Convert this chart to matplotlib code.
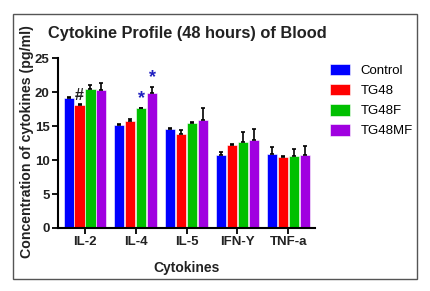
"""
Cytokine profile (48 hours) of blood - grouped bar chart
"""

import numpy as np
import matplotlib
matplotlib.use('Agg')
import matplotlib.pyplot as plt
from matplotlib.patches import Rectangle

cytokines = ['IL-2', 'IL-4', 'IL-5', 'IFN-Y', 'TNF-a']
groups = ['Control', 'TG48', 'TG48F', 'TG48MF']
colors = ['#0000FF', '#FF0000', '#00C000', '#A000E0']

control = [19.1, 15.2, 14.6, 10.8, 10.9]
tg48 = [18.1, 15.7, 13.9, 12.2, 10.4]
tg48f = [20.5, 17.6, 15.4, 12.6, 10.6]
tg48mf = [20.3, 19.9, 15.9, 13.0, 10.7]

control_err = [0.15, 0.1, 0.15, 0.35, 1.0]
tg48_err = [0.1, 0.3, 0.5, 0.15, 0.15]
tg48f_err = [0.6, 0.1, 0.2, 1.55, 0.95]
tg48mf_err = [1.0, 0.9, 1.75, 1.55, 1.35]

plt.rcParams['font.family'] = ['Liberation Sans', 'DejaVu Sans']

fig = plt.figure(figsize=(4.3, 2.91), dpi=100)
ax = fig.add_axes([0.135, 0.2165, 0.598, 0.584])

# grey frame around the whole picture
fig.patches.append(Rectangle((13 / 430, 12 / 291), 404 / 430, 265 / 291,
                             transform=fig.transFigure, fill=False,
                             edgecolor='#555555', linewidth=1.0))

x = np.arange(len(cytokines))
width = 0.2
step = 0.215
series = [control, tg48, tg48f, tg48mf]
errors = [control_err, tg48_err, tg48f_err, tg48mf_err]

for i, (vals, errs) in enumerate(zip(series, errors)):
    pos = x + (i - 1.5) * step
    ax.bar(pos, vals, width, color=colors[i], edgecolor='white',
           linewidth=0.4, label=groups[i], zorder=2)
    ax.errorbar(pos, vals, yerr=[np.zeros(len(errs)), errs], fmt='none',
                ecolor='black', elinewidth=1.2, capsize=1.5, capthick=1.2,
                zorder=3)

# significance marks
ax.text(x[0] - 0.5 * step, tg48[0] + tg48_err[0] + 0.2, '#',
        ha='center', va='bottom', fontsize=11.5, fontweight='bold', color='#222222')
ax.text(x[1] + 0.5 * step, tg48f[1] + tg48f_err[1] + 0.1, '*',
        ha='center', va='bottom', fontsize=13, fontweight='bold', color='#2020C0')
ax.text(x[1] + 1.5 * step, tg48mf[1] + tg48mf_err[1] + 0.1, '*',
        ha='center', va='bottom', fontsize=13, fontweight='bold', color='#2020C0')

ax.set_xlim(-0.53, 4.53)
ax.set_ylim(0, 25)
ax.set_yticks([0, 5, 10, 15, 20, 25])
ax.set_xticks(x)
ax.set_xticklabels(cytokines)
for lab in ax.get_xticklabels() + ax.get_yticklabels():
    lab.set_fontweight('bold')
    lab.set_fontsize(9.5)
    lab.set_color('#222222')

ax.spines['top'].set_visible(False)
ax.spines['right'].set_visible(False)
ax.spines['left'].set_linewidth(1.5)
ax.spines['bottom'].set_linewidth(1.5)
ax.tick_params(width=1.3, length=4, pad=2)

ax.set_xlabel('Cytokines', fontsize=10, fontweight='bold', color='#222222', labelpad=9)
fig.text(0.063, 0.512, 'Concentration of cytokines (pg/ml)', rotation=90,
         ha='center', va='center', fontsize=10.2, fontweight='bold', color='#222222')
fig.text(0.112, 0.886, 'Cytokine Profile (48 hours) of Blood', fontsize=11.8,
         fontweight='bold', color='#222222', va='center')

leg = ax.legend(loc='upper left', bbox_to_anchor=(1.058, 0.965), frameon=False,
                fontsize=9.5, handlelength=1.5, handleheight=0.95,
                handletextpad=0.8, labelspacing=0.52, borderpad=0,
                borderaxespad=0)

fig.savefig('out.png', dpi=100)
